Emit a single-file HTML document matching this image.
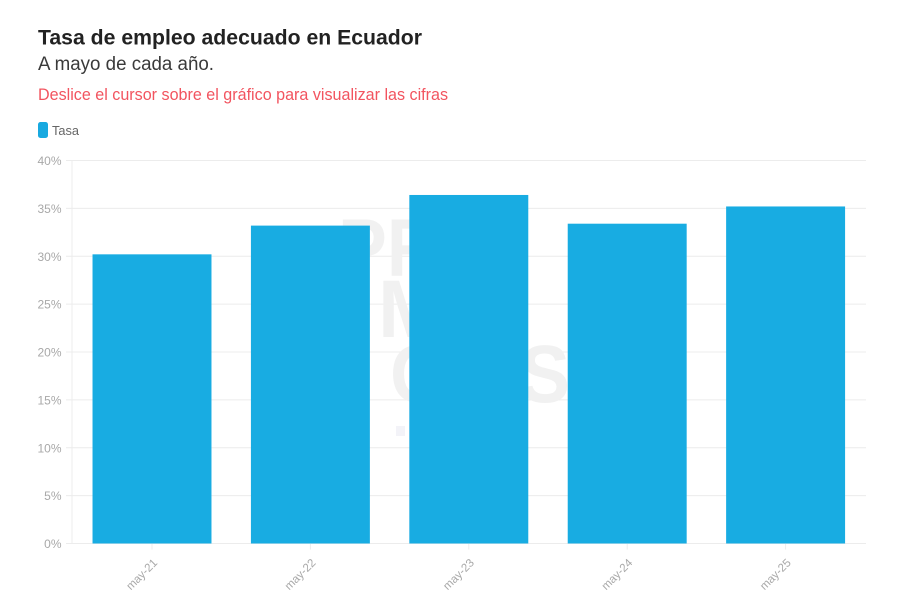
<!DOCTYPE html>
<html lang="es">
<head>
<meta charset="utf-8">
<title>Tasa de empleo adecuado en Ecuador</title>
<style>
html,body{margin:0;padding:0;background:#fff;}
body{width:922px;height:609px;overflow:hidden;}
svg{display:block;font-family:"Liberation Sans",sans-serif;}
</style>
</head>
<body>
<svg id="chart" width="922" height="609" viewBox="0 0 922 609" xmlns="http://www.w3.org/2000/svg">
  <rect width="922" height="609" fill="#ffffff"/>
  <text x="38" y="44.5" font-size="21.5" font-weight="700" fill="#222222" textLength="384" lengthAdjust="spacingAndGlyphs">Tasa de empleo adecuado en Ecuador</text>
  <text x="38" y="70" font-size="19" fill="#3a3a3a" textLength="176" lengthAdjust="spacingAndGlyphs">A mayo de cada año.</text>
  <text x="38" y="100" font-size="16.5" fill="#f2545f" textLength="410" lengthAdjust="spacingAndGlyphs">Deslice el cursor sobre el gráfico para visualizar las cifras</text>
  <rect x="38" y="122" width="10" height="16" rx="2.5" fill="#18a9e0"/>
  <text x="52" y="135" font-size="12.5" fill="#666666" textLength="27" lengthAdjust="spacingAndGlyphs">Tasa</text>
  <g id="grid"></g>
  <g id="watermark" fill="#f1f1f1" font-weight="700" font-size="82">
    <text x="338" y="276" textLength="122" lengthAdjust="spacingAndGlyphs">PRI</text>
    <text x="378" y="337" textLength="90" lengthAdjust="spacingAndGlyphs">MI</text>
    <text x="390" y="402" textLength="180" lengthAdjust="spacingAndGlyphs">CIAS</text>
    <rect x="396" y="426" width="9" height="10" fill="#f3f3f8"/>
  </g>
  <g id="bars"></g>
  <g id="y-axis"></g>
  <g id="x-axis"></g>
</svg>
<script>
const categories = ["may-21", "may-22", "may-23", "may-24", "may-25"];
const tasaValues = [30.2, 33.2, 36.4, 33.4, 35.2];
const yTicks = [0, 5, 10, 15, 20, 25, 30, 35, 40];

const NS = "http://www.w3.org/2000/svg";
const plotLeft = 72, plotRight = 866, plotTop = 160.5, plotBottom = 543.5;
const bandLeft = 72.8, bandTotal = 792;
const yMax = 40, barRatio = 0.751;
const band = bandTotal / categories.length;
function yScale(v) { return plotBottom - (v / yMax) * (plotBottom - plotTop); }
function xCenter(i) { return bandLeft + band * (i + 0.5); }
function make(tag, attrs, parent) {
  const el = document.createElementNS(NS, tag);
  for (const k in attrs) el.setAttribute(k, attrs[k]);
  parent.appendChild(el);
  return el;
}
const gridG = document.getElementById("grid");
const barsG = document.getElementById("bars");
const yG = document.getElementById("y-axis");
const xG = document.getElementById("x-axis");

const yLine = make("line", {x1: plotLeft, x2: plotLeft, y1: plotTop, y2: plotBottom, stroke: "#ececec"}, yG);



yTicks.forEach(function (t) {
  const y = yScale(t);
  const line = make("line", {x1: 66, x2: plotRight, y1: y, y2: y, stroke: "#ececec", "stroke-width": 1}, gridG);
  
  
  const label = make("text", {x: 61.5, y: y + 4.5, "text-anchor": "end", "font-size": 12, fill: "#a8a8a8"}, yG);
  
  
  label.textContent = t + "%";
});

categories.forEach(function (c, i) {
  const cx = xCenter(i), w = band * barRatio, y = yScale(tasaValues[i]);
  const bar = make("rect", {x: cx - w / 2, y: y, width: w, height: plotBottom - y, fill: "#18ace2"}, barsG);
  
  
  const tick = make("line", {x1: cx, x2: cx, y1: plotBottom, y2: plotBottom + 6, stroke: "#ececec"}, xG);
  
  
  const lx = cx + 6, ly = plotBottom + 20;
  const label = make("text", {x: lx, y: ly, "text-anchor": "end", "font-size": 11.5, fill: "#a8a8a8", transform: "rotate(-45 " + lx + " " + ly + ")"}, xG);
  
  
  label.textContent = c;
});
</script>
</body>
</html>
